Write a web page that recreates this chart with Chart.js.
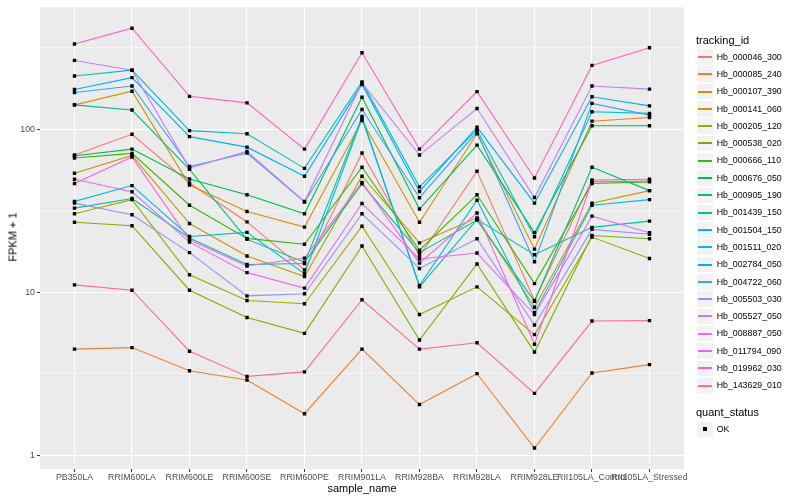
<!DOCTYPE html>
<html><head><meta charset="utf-8">
<script src="https://cdn.jsdelivr.net/npm/chart.js@4.4.1/dist/chart.umd.min.js"></script>
<style>
body{margin:0;background:#fff;}
#wrap{position:relative;width:800px;height:500px;font-family:"Liberation Sans",Arial,Helvetica,sans-serif;background:#fff;overflow:hidden;}
canvas{position:absolute;left:0;top:0;}
.t{position:absolute;white-space:nowrap;color:#000;font-weight:normal;}
.key{position:absolute;background:#F2F2F2;}
.kl{position:absolute;height:1.5px;}
</style></head><body>
<div id="wrap"><canvas id="c" width="800" height="500"></canvas></div>
<script>
// ---- data ----
const categories = ["PB350LA","RRIM600LA","RRIM600LE","RRIM600SE","RRIM600PE","RRIM901LA","RRIM928BA","RRIM928LA","RRIM928LE","RII105LA_Control","RII105LA_Stressed"];
const seriesNames = ["Hb_000046_300","Hb_000085_240","Hb_000107_390","Hb_000141_060","Hb_000205_120","Hb_000538_020","Hb_000666_110","Hb_000676_050","Hb_000905_190","Hb_001439_150","Hb_001504_150","Hb_001511_020","Hb_002784_050","Hb_004722_060","Hb_005503_030","Hb_005527_050","Hb_008887_050","Hb_011794_090","Hb_019962_030","Hb_143629_010"];
const seriesColors = ["#F8766D","#EA8331","#D89000","#C09B00","#A3A500","#7CAE00","#39B600","#00BB4E","#00BF7D","#00C1A3","#00BFC4","#00BAE0","#00B0F6","#35A2FF","#9590FF","#C77CFF","#E76BF3","#FA62DB","#FF62BC","#FF6C91"];
// FPKM + 1 values, one array per tracking_id, in category order
const hb_000046_300 = [69.4, 93, 46.8, 27, 13.7, 71.4, 16.7, 55.2, 8.9, 48.8, 49.3];
const hb_000085_240 = [4.48, 4.58, 3.3, 2.9, 1.8, 4.48, 2.05, 3.17, 1.11, 3.2, 3.6];
const hb_000107_390 = [141, 171, 45.5, 31.3, 25.1, 113, 26.9, 93.7, 18.4, 112, 118];
const hb_000141_060 = [53.7, 69, 26.4, 16.7, 12.5, 51.5, 20.1, 28.6, 8.1, 35.2, 42];
const hb_000205_120 = [30.3, 37, 12.8, 8.9, 8.5, 25.4, 7.3, 10.8, 5.5, 21.8, 16.1];
const hb_000538_020 = [26.9, 25.6, 10.3, 7.0, 5.6, 19.2, 5.1, 14.9, 4.3, 22.3, 21.3];
const hb_000666_110 = [66.6, 71, 34.2, 21.4, 19.7, 58.4, 18.1, 39.6, 11.3, 46.4, 47.5];
const hb_000676_050 = [68.7, 75.5, 49.5, 39.6, 30.3, 157, 32.4, 79.8, 23.2, 105, 105];
const hb_000905_190 = [141, 131, 56.7, 21.1, 15.3, 46.2, 17.5, 27.7, 8.8, 58.4, 42];
const hb_001439_150 = [32.8, 37.6, 21.5, 14.8, 15.0, 119.6, 10.8, 28, 17.0, 25, 27.3];
const hb_001504_150 = [212, 230, 98, 93.7, 57.5, 195, 44.3, 99, 21.9, 128, 125];
const hb_001511_020 = [36.1, 45.1, 22, 23.3, 13, 116.3, 11.0, 36.7, 7.5, 34.2, 37];
const hb_002784_050 = [175, 207, 90, 77.6, 51.5, 188, 41.5, 102.8, 35.2, 158, 139];
const hb_004722_060 = [168, 184, 59, 71.4, 35.8, 132, 38, 96, 15.4, 144, 122];
const hb_005503_030 = [35.2, 29.9, 17.5, 9.5, 9.8, 30.3, 14.0, 21.3, 6.3, 24.3, 22.7];
const hb_005527_050 = [264, 230, 57.8, 73, 36, 192, 69.4, 134, 38.1, 184, 176];
const hb_008887_050 = [49.3, 41.3, 20.3, 13.2, 10.6, 35, 16, 17.4, 7.3, 29.3, 23.2];
const hb_011794_090 = [46.4, 67.5, 21, 14.5, 16.2, 47.2, 15.1, 30.6, 4.8, 47.7, 48];
const hb_019962_030 = [333, 416, 159, 145, 75.5, 294, 75.5, 170, 50.2, 246, 316];
const hb_143629_010 = [11.1, 10.3, 4.35, 3.05, 3.25, 9.0, 4.48, 4.9, 2.4, 6.66, 6.7];
const seriesValues = [hb_000046_300,hb_000085_240,hb_000107_390,hb_000141_060,hb_000205_120,hb_000538_020,hb_000666_110,hb_000676_050,hb_000905_190,hb_001439_150,hb_001504_150,hb_001511_020,hb_002784_050,hb_004722_060,hb_005503_030,hb_005527_050,hb_008887_050,hb_011794_090,hb_019962_030,hb_143629_010];
const yTickValues = [1, 10, 100];
const yMinorValues = [Math.sqrt(10), 10*Math.sqrt(10), 100*Math.sqrt(10)];
const quantStatus = ["OK"];

// ---- chart ----
const FONT = '"Liberation Sans", Arial, Helvetica, sans-serif';
const datasets = [];
seriesValues.forEach((vals, i) => {
  datasets.push({
    type: 'line', label: seriesNames[i],
    data: vals.map((v, j) => ({x: j, y: v})),
    borderColor: seriesColors[i], backgroundColor: seriesColors[i],
    borderWidth: 1.1, pointRadius: 0, fill: false, tension: 0,
    order: 100 - i
  });
});
seriesValues.forEach((vals, i) => {
  datasets.push({
    type: 'scatter', label: seriesNames[i] + ' ' + quantStatus[0],
    data: vals.map((v, j) => ({x: j, y: v})),
    pointStyle: 'rect', pointRadius: 2.4, pointHoverRadius: 2.4,
    backgroundColor: '#000', borderColor: '#000', borderWidth: 0,
    showLine: false, order: 0
  });
});

const bgPlugin = {
  id: 'panelBg',
  beforeDraw(chart) {
    const {ctx, chartArea: a} = chart;
    ctx.save();
    ctx.fillStyle = '#EBEBEB';
    ctx.fillRect(a.left, a.top, a.right - a.left, a.bottom - a.top);
    ctx.restore();
  }
};
const allY = yTickValues.concat(yMinorValues).sort((a, b) => a - b);
const isMajorY = v => yTickValues.some(t => Math.abs(t - v) < 1e-6);

new Chart(document.getElementById('c'), {
  type: 'line',
  data: { datasets },
  plugins: [bgPlugin],
  options: {
    responsive: false, animation: false, devicePixelRatio: 1,
    layout: { padding: { left: 0, top: 5, right: 116, bottom: 0 } },
    plugins: { legend: { display: false }, tooltip: { enabled: false } },
    events: [],
    scales: {
      x: {
        type: 'linear', min: -0.6, max: categories.length - 1 + 0.6,
        afterBuildTicks: s => { s.ticks = categories.map((c, i) => ({ value: i })); },
        afterFit: s => { s.height = 31; },
        ticks: {
          callback: v => categories[v] ?? '',
          autoSkip: false, maxRotation: 0, minRotation: 0,
          color: '#4D4D4D', font: { family: FONT, size: 8.8 }, padding: 0
        },
        grid: { color: '#FFFFFF', lineWidth: 1.07, tickColor: '#333333', tickLength: 3, tickWidth: 1 },
        border: { display: false }
      },
      y: {
        type: 'logarithmic', min: 0.825, max: 559,
        afterBuildTicks: s => { s.ticks = allY.map(v => ({ value: v })); },
        afterFit: s => { s.width = 40; },
        ticks: {
          callback: v => isMajorY(v) ? String(Math.round(v)) : '',
          color: '#4D4D4D', font: { family: FONT, size: 8.8 }, padding: 2
        },
        grid: {
          color: '#FFFFFF',
          lineWidth: c => (c.tick && isMajorY(c.tick.value)) ? 1.07 : 0.53,
          tickColor: c => (c.tick && isMajorY(c.tick.value)) ? '#333333' : 'rgba(0,0,0,0)',
          tickLength: 3, tickWidth: 1
        },
        border: { display: false }
      }
    }
  }
});

// ---- text: axis titles and legends (HTML) ----
const wrap = document.getElementById('wrap');
function addText(txt, left, centerY, size) {
  const d = document.createElement('div');
  d.className = 't';
  d.textContent = txt;
  d.style.fontSize = size + 'px';
  d.style.left = left + 'px';
  d.style.top = (centerY - size * 0.6) + 'px';
  d.style.lineHeight = (size * 1.2) + 'px';
  wrap.appendChild(d);
  return d;
}
// x title
const xt = addText('sample_name', 362, 488.5, 11);
xt.style.transform = 'translateX(-50%)';
// y title
const yt = document.createElement('div');
yt.className = 't';
yt.textContent = 'FPKM + 1';
Object.assign(yt.style, { fontSize: '11px', lineHeight: '13px', left: '13px', top: '237px', transform: 'translate(-50%,-50%) rotate(-90deg)' });
wrap.appendChild(yt);

// tracking_id legend
addText('tracking_id', 696, 40.7, 11);
seriesNames.forEach((n, i) => {
  const cy = 56.9 + i * 17.3;
  const k = document.createElement('div');
  k.className = 'key';
  Object.assign(k.style, { left: '697px', top: (cy - 7.8) + 'px', width: '16px', height: '15.6px' });
  wrap.appendChild(k);
  const l = document.createElement('div');
  l.className = 'kl';
  Object.assign(l.style, { left: '698px', top: (Math.round(cy) - 1) + 'px', width: '14px', background: seriesColors[i] });
  wrap.appendChild(l);
  addText(n, 716.7, cy, 8.8);
});
// quant_status legend
addText('quant_status', 696, 412.7, 11);
quantStatus.forEach((q, i) => {
  const cy = 429.3 + i * 17.3;
  const k = document.createElement('div');
  k.className = 'key';
  Object.assign(k.style, { left: '697px', top: (cy - 7.8) + 'px', width: '16px', height: '15.6px' });
  wrap.appendChild(k);
  const p = document.createElement('div');
  Object.assign(p.style, { position: 'absolute', left: '703px', top: (Math.round(cy) - 2) + 'px', width: '3.5px', height: '3.5px', background: '#000' });
  wrap.appendChild(p);
  addText(q, 716.7, cy, 8.8);
});
</script>
</body></html>
